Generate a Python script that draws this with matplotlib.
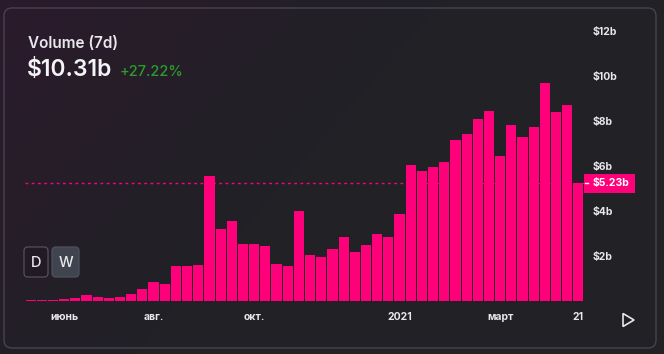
import numpy as np
import matplotlib
matplotlib.use("Agg")
import matplotlib.pyplot as plt
from matplotlib.patches import FancyBboxPatch, Rectangle, Polygon
from matplotlib.transforms import blended_transform_factory

plt.rcParams['font.family'] = ['Inter', 'DejaVu Sans']

# -------------------------------
# Data: weekly volume, $ billions
# -------------------------------
volume = [0.05, 0.05, 0.05, 0.07, 0.15, 0.27, 0.18, 0.12, 0.18, 0.30,
          0.55, 0.84, 0.77, 1.55, 1.55, 1.60, 5.56, 3.20, 3.55, 2.55,
          2.55, 2.45, 1.65, 1.55, 4.00, 2.05, 1.95, 2.30, 2.85, 2.20,
          2.50, 3.00, 2.85, 3.87, 6.05, 5.78, 5.97, 6.18, 7.15, 7.42,
          8.10, 8.45, 6.45, 7.82, 7.30, 7.73, 9.70, 8.40, 8.70, 5.23]
xtick_idx = [3, 11, 20, 33, 42, 49]
xtick_labels = ["июнь", "авг.", "окт.", "2021", "март", "21"]
yticks = [2, 4, 6, 8, 10, 12]
title = "Volume (7d)"
headline = "$10.31b"
change = "+27.22%"

PINK = "#ff007a"
TXT = "#e9e7ec"
W, H = 664, 354

fig = plt.figure(figsize=(W / 100, H / 100), dpi=100)

# background in pixel coordinates
bg = fig.add_axes([0, 0, 1, 1], zorder=-1)
bg.set_xlim(0, W)
bg.set_ylim(H, 0)
bg.axis("off")
yy, xx = np.mgrid[0:H, 0:W]
t = np.clip(xx / W * 1.5 + yy / H * 0.7, 0, 1) ** 0.8
c0 = np.array([0x2c, 0x1a, 0x2d]) / 255
c1 = np.array([0x21, 0x21, 0x26]) / 255
img = c0[None, None, :] * (1 - t[..., None]) + c1[None, None, :] * t[..., None]
bg.imshow(img, extent=(0, W, H, 0), aspect="auto", interpolation="bilinear")

# card border
bg.add_patch(FancyBboxPatch((4, 8), 652, 340, boxstyle="round,pad=0,rounding_size=8",
                            fc="none", ec="#48434d", lw=1.0))

# header texts
bg.text(28, 43, title, color=TXT, fontsize=11, fontweight="semibold", va="center")
bg.text(27, 70, headline, color="#f4f3f6", fontsize=16.5, fontweight="semibold", va="center")
bg.text(120, 72, change, color="#2a9d2a", fontsize=10.5, fontweight="medium", va="center")

# D / W buttons
bg.add_patch(FancyBboxPatch((24, 247), 24, 30, boxstyle="round,pad=0,rounding_size=4",
                            fc="#221a24", ec="#55505a", lw=0.9))
bg.add_patch(FancyBboxPatch((52, 247), 27, 30, boxstyle="round,pad=0,rounding_size=4",
                            fc="#40444e", ec="#4e525c", lw=0.9))
bg.text(36, 263, "D", color=TXT, fontsize=10.5, fontweight="medium", ha="center", va="center")
bg.text(65.5, 263, "W", color=TXT, fontsize=10.5, fontweight="medium", ha="center", va="center")

# play icon
bg.add_patch(Polygon([(623, 313.5), (623, 326.5), (634, 320)], closed=True,
                     fc="none", ec="#e8e8ea", lw=1.2, joinstyle="miter"))

# -------------------------------
# Bar chart
# -------------------------------
ax = fig.add_axes([25 / W, 53 / H, 559 / W, 281 / H])
ax.set_facecolor("none")
x = np.arange(len(volume))
ax.bar(x, volume, width=0.91, color=PINK, linewidth=0)
ax.set_xlim(-0.5, len(volume) - 0.5)
ax.set_ylim(0, 12.5)

last = volume[-1]
ax.axhline(last, color=PINK, lw=1.0, linestyle=(0, (2, 2.5)), zorder=0.5)

ax.yaxis.tick_right()
ax.set_yticks(yticks)
ax.set_yticklabels([f"${v}b" for v in yticks])
ax.set_xticks(xtick_idx)
ax.set_xticklabels(xtick_labels)
ax.tick_params(axis="y", length=0, pad=6.5, labelsize=7.5, labelcolor=TXT)
ax.tick_params(axis="x", length=0, pad=8, labelsize=7.5, labelcolor=TXT)
for lab in ax.get_xticklabels() + ax.get_yticklabels():
    lab.set_fontweight("bold")
for s in ax.spines.values():
    s.set_visible(False)

# current value marker on the right axis
tr = blended_transform_factory(ax.transAxes, ax.transData)
ax.add_patch(Rectangle((1.0, last - 0.415), 51 / 559, 0.83, transform=tr,
                       fc=PINK, ec="none", clip_on=False))
ax.plot([1.002, 1.008], [last, last], transform=tr, color="white", lw=1, clip_on=False)
ax.text(1 + 9 / 559, last, f"${last:.2f}b", transform=tr, color="white",
        fontsize=7.5, fontweight="bold", va="center", ha="left")

fig.savefig("out.png", dpi=100)
